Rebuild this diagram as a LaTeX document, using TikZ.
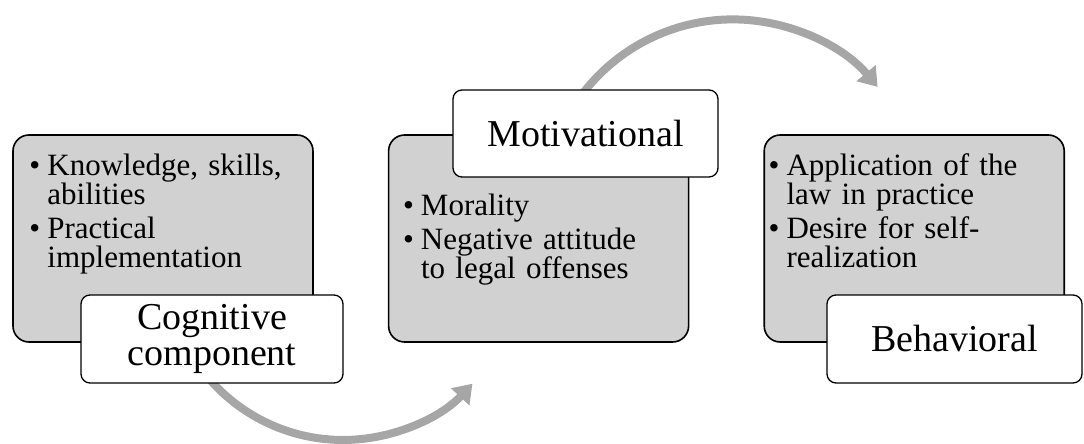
\documentclass[tikz,border=0pt]{standalone}
\usepackage{fontspec}
\setmainfont{Liberation Serif}
\usetikzlibrary{positioning,arrows.meta}

\newcommand{\bitem}[1]{\par\hangindent=18pt\hangafter=1\noindent\makebox[18pt][l]{\textbullet}#1\par}

\tikzset{
	panel/.style={draw=black, line width=1.6pt, fill=black!18, rounded corners=16pt, minimum width=300pt, minimum height=207pt},
	tag/.style={draw=black, line width=1.3pt, fill=white, rounded corners=9pt, align=center, font=\fontsize{38}{36}\selectfont},
	bullets/.style={anchor=north west, inner sep=0pt, text width=268pt, align=left, font=\fontsize{31}{29}\selectfont\setlength{\parskip}{5pt}},
	flow/.style={draw=black!35, line width=8pt, -{Triangle[width=24pt,length=18pt]}}
}

\begin{document}
\begin{tikzpicture}[x=1pt,y=1pt]
	\useasboundingbox (0,0) rectangle (1084,444);
	\node[panel] (cogbox) at (163,205.5) {};
	\node[panel, right=74pt of cogbox] (motbox) {};
	\node[panel, right=74pt of motbox] (behbox) {};
	\coordinate (topstart) at (578,344);
	\coordinate (lowstart) at (198,79.5);
	\draw[flow] (topstart) arc[start angle=145, end angle=40, radius=189];
	\draw[flow] (lowstart) arc[start angle=215, end angle=317, radius=177];
	\node[tag, minimum width=262pt, minimum height=88pt] (cog) at (212,105) {Cognitive\\component};
	\node[tag, minimum width=265pt, minimum height=87pt] (mot) at (585.5,310.5) {Motivational};
	\node[tag, minimum width=255pt, minimum height=88pt] (beh) at (954.5,105) {Behavioral};
	\node[bullets, below right=7pt and 17pt of cogbox.north west] (cogtext) {\bitem{Knowledge, skills,\newline abilities}\bitem{Practical\newline implementation}};
	\node[bullets, below right=47pt and 15pt of motbox.north west] (mottext) {\bitem{Morality}\bitem{Negative attitude\newline to legal offenses}};
	\node[bullets, below right=7pt and 5pt of behbox.north west] (behtext) {\bitem{Application of the\newline law in practice}\bitem{Desire for self-\newline realization}};
\end{tikzpicture}
\end{document}
